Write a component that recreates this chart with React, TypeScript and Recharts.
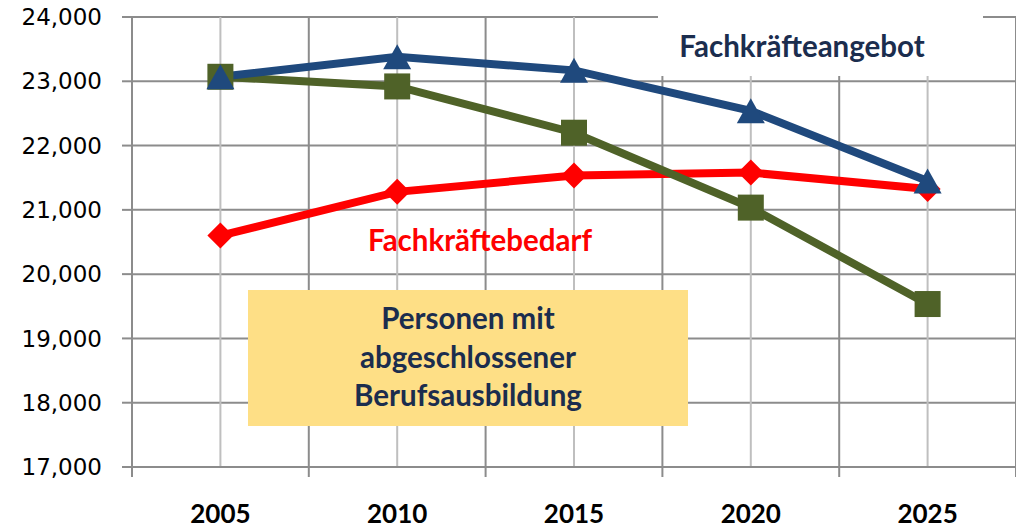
import React from 'react';
import { LineChart, Line, XAxis, YAxis, CartesianGrid, ReferenceLine } from 'recharts';

const YEARS = [2005, 2010, 2015, 2020, 2025];
const ANGEBOT = [23070, 23380, 23170, 22540, 21450];
const BERUFSAUSBILDUNG = [23070, 22920, 22200, 21035, 19535];
const BEDARF = [20600, 21280, 21535, 21580, 21325];
const Y_TICKS = [17000, 18000, 19000, 20000, 21000, 22000, 23000, 24000];
// category boundaries (Excel style "between tick marks")
const BOUNDARIES = [2002.5, 2007.5, 2012.5, 2017.5, 2022.5, 2027.5];

const data = YEARS.map((year, i) => ({
  year,
  angebot: ANGEBOT[i],
  ausbildung: BERUFSAUSBILDUNG[i],
  bedarf: BEDARF[i],
}));

const GRID = '#8c8c8c';
const NAVY = '#1b2d4e';
const labelFont = 'Lato, "Open Sans", sans-serif';

const Triangle = (props: any) => {
  const { cx, cy } = props;
  if (cx == null || cy == null) return null;
  const w = 28, h = 25;
  return (
    <polygon
      points={`${cx},${cy - h / 2} ${cx + w / 2},${cy + h / 2} ${cx - w / 2},${cy + h / 2}`}
      fill="#1f497d"
    />
  );
};

const Square = (props: any) => {
  const { cx, cy } = props;
  if (cx == null || cy == null) return null;
  const s = 26;
  return <rect x={cx - s / 2} y={cy - s / 2} width={s} height={s} fill="#4f6228" />;
};

const Diamond = (props: any) => {
  const { cx, cy } = props;
  if (cx == null || cy == null) return null;
  const r = 13;
  return (
    <polygon
      points={`${cx},${cy - r} ${cx + r},${cy} ${cx},${cy + r} ${cx - r},${cy}`}
      fill="#ff0000"
    />
  );
};

const XTick = (props: any) => {
  const { x, y, payload } = props;
  const v = payload.value;
  if (YEARS.includes(v)) {
    return (
      <text
        x={x}
        y={y + 56}
        textAnchor="middle"
        fontFamily={labelFont}
        fontWeight={700}
        fontSize={26}
        fill="#000"
      >
        {v}
      </text>
    );
  }
  return <line x1={x} y1={y} x2={x} y2={y + 10} stroke={GRID} strokeWidth={2} />;
};

export default function App() {
  return (
    <div style={{ position: 'absolute', left: 0, top: 0, width: 1016, height: 528, background: '#fff' }}>
      <LineChart
        width={1016}
        height={528}
        data={data}
        margin={{ top: 17, right: 0, bottom: 0, left: 0 }}
      >
        <CartesianGrid vertical={false} stroke={GRID} strokeWidth={2} />
        {BOUNDARIES.slice(1).map((b) => (
          <ReferenceLine key={b} x={b} stroke={GRID} strokeWidth={2} />
        ))}
        {YEARS.map((y) => (
          <ReferenceLine key={y} x={y} stroke="#bfbfbf" strokeWidth={2} />
        ))}
        <XAxis
          dataKey="year"
          type="number"
          domain={[2002.5, 2027.5]}
          ticks={[...BOUNDARIES, ...YEARS].sort((a, b) => a - b)}
          interval={0}
          allowDataOverflow
          height={61}
          tickSize={0}
          tickMargin={0}
          tickLine={false}
          axisLine={{ stroke: GRID, strokeWidth: 2 }}
          tick={<XTick />}
        />
        <YAxis
          domain={[17000, 24000]}
          ticks={Y_TICKS}
          interval={0}
          width={132}
          tickSize={10}
          tickMargin={20}
          tickLine={{ stroke: GRID, strokeWidth: 2 }}
          axisLine={{ stroke: GRID, strokeWidth: 2 }}
          tickFormatter={(v: number) => v.toLocaleString('en-US')}
          tick={{ fontFamily: '"DejaVu Sans", sans-serif', fontSize: 23, fill: '#000' }}
        />
        <Line
          dataKey="bedarf"
          stroke="#ff0000"
          strokeWidth={8}
          dot={<Diamond />}
          activeDot={false}
          isAnimationActive={false}
        />
        <Line
          dataKey="ausbildung"
          stroke="#4f6228"
          strokeWidth={8}
          dot={<Square />}
          activeDot={false}
          isAnimationActive={false}
        />
        <Line
          dataKey="angebot"
          stroke="#1f497d"
          strokeWidth={8}
          dot={<Triangle />}
          activeDot={false}
          isAnimationActive={false}
        />
      </LineChart>

      <div style={{ position: 'absolute', left: 658, top: 15, width: 325, height: 61, background: '#fff' }} />
      <div
        style={{
          position: 'absolute', left: 652, top: 29, width: 300, textAlign: 'center',
          fontFamily: labelFont, fontWeight: 700, fontSize: 29.5, lineHeight: '34px', color: NAVY,
        }}
      >
        Fachkräfteangebot
      </div>
      <div
        style={{
          position: 'absolute', left: 330, top: 223, width: 300, textAlign: 'center',
          fontFamily: labelFont, fontWeight: 700, fontSize: 29.5, lineHeight: '34px', color: '#ff0000',
        }}
      >
        Fachkräftebedarf
      </div>
      <div style={{ position: 'absolute', left: 248, top: 290, width: 440, height: 136, background: '#fedf86' }} />
      <div
        style={{
          position: 'absolute', left: 248, top: 299, width: 440, textAlign: 'center',
          fontFamily: labelFont, fontWeight: 700, fontSize: 29.5, lineHeight: '38.5px', color: NAVY,
        }}
      >
        Personen mit
        <br />
        abgeschlossener
        <br />
        Berufsausbildung
      </div>
    </div>
  );
}
